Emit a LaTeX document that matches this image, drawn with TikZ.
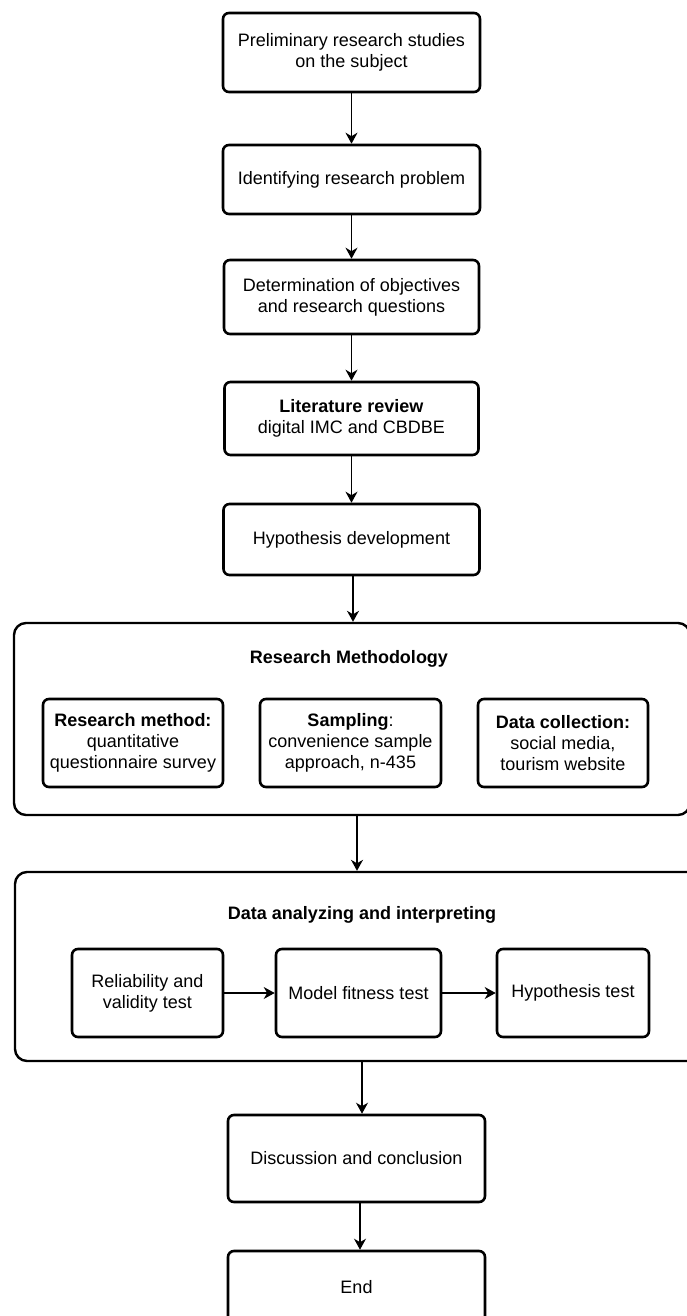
\documentclass[tikz,border=0pt]{standalone}
\usepackage{fontspec}
\setmainfont{Liberation Sans}
\usetikzlibrary{arrows.meta}
\tikzset{
  box/.style={draw, line width=2.6pt, rounded corners=6pt, align=center, inner sep=0pt,
    font=\fontsize{18pt}{21pt}\selectfont},
  group/.style={draw, line width=2.4pt, rounded corners=12pt},
  grouptitle/.style={font=\fontsize{18pt}{21pt}\selectfont\bfseries, inner sep=0pt},
  arr/.style={line width=1.4pt, -{Stealth[length=11pt,width=12pt,inset=3.5pt]}},
}
\begin{document}
\begin{tikzpicture}[x=1pt,y=-1pt]
\clip (0,0) rectangle (687,1316);
\fill[white] (0,0) rectangle (687,1316);

\node[box, minimum width=257pt, minimum height=79pt] (b1) at (351.5,52.5) {Preliminary research studies\\on the subject};
\node[box, minimum width=257pt, minimum height=69pt] (b2) at (351.5,179.5) {Identifying research problem};
\node[box, minimum width=255pt, minimum height=74pt] (b3) at (351.5,297) {Determination of objectives\\and research questions};
\node[box, minimum width=254pt, minimum height=73pt] (b4) at (351.5,418.5) {\textbf{Literature review}\\digital IMC and CBDBE};
\node[box, minimum width=256pt, minimum height=71pt] (b5) at (351.5,539.5) {Hypothesis development};

\node[group, minimum width=676pt, minimum height=192pt] (meth) at (352,719) {};
\node[grouptitle] (methtitle) at (349,659) {Research Methodology};
\node[box, minimum width=180pt, minimum height=88pt] (m1) at (133,743) {\textbf{Research method:}\\quantitative\\questionnaire survey};
\node[box, minimum width=181pt, minimum height=88pt] (m2) at (350.5,743) {\textbf{Sampling}:\\convenience sample\\approach, n-435};
\node[box, minimum width=170pt, minimum height=88pt] (m3) at (563,743) {\textbf{Data collection:}\\social media,\\tourism website};

\node[group, minimum width=694pt, minimum height=189pt] (data) at (362,966.5) {};
\node[grouptitle] (datatitle) at (362,915) {Data analyzing and interpreting};
\node[box, minimum width=151pt, minimum height=88pt] (d1) at (147.5,993) {Reliability and\\validity test};
\node[box, minimum width=165pt, minimum height=88pt] (d2) at (358.5,993) {Model fitness test};
\node[box, minimum width=152pt, minimum height=88pt] (d3) at (573,993) {Hypothesis test};

\node[box, minimum width=257pt, minimum height=87pt] (disc) at (356.5,1158.5) {Discussion and conclusion};
\node[box, minimum width=257pt, minimum height=72pt] (end) at (356.5,1287) {End};

\draw[arr] (b1.south) -- (b2.north);
\draw[arr] (b2.south) -- (b3.north);
\draw[arr] (b3.south) -- (b4.north);
\draw[arr] (b4.south) -- (b5.north);
\draw[arr] ([xshift=1.5pt]b5.south) -- ([xshift=1.5pt]b5.south |- meth.north);
\draw[arr] ([xshift=5pt]meth.south) -- ([xshift=5pt]meth.south |- data.north);
\draw[arr] (d1.east) -- (d2.west);
\draw[arr] (d2.east) -- (d3.west);
\draw[arr] (data.south) -- (data.south |- disc.north);
\draw[arr] ([xshift=3.5pt]disc.south) -- ([xshift=3.5pt]disc.south |- end.north);
\end{tikzpicture}
\end{document}
